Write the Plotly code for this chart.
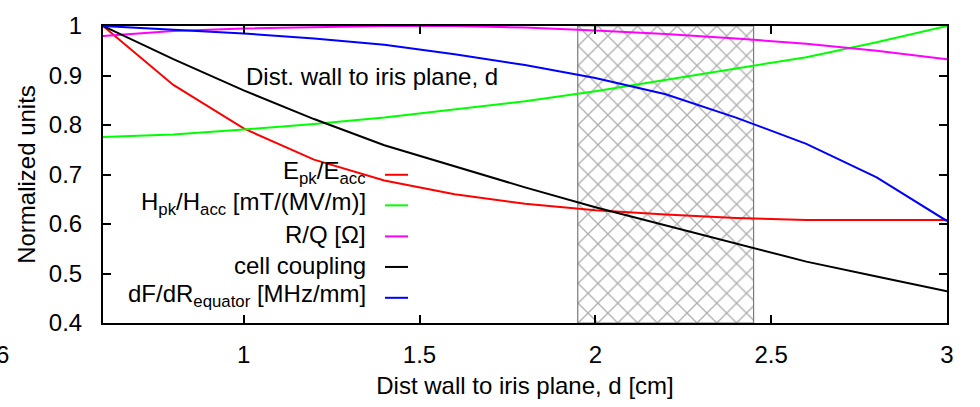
import plotly.graph_objects as go

# Distance from cavity wall to iris plane, d [cm]
d = [0.6, 0.8, 1.0, 1.2, 1.4, 1.6, 1.8, 2.0, 2.2, 2.4, 2.6, 2.8, 3.0]

# Normalized figures of merit
epk_eacc = [1.0, 0.881, 0.793, 0.730, 0.688, 0.660, 0.641, 0.628, 0.619, 0.612, 0.608, 0.608, 0.608]
hpk_hacc = [0.776, 0.781, 0.791, 0.802, 0.815, 0.831, 0.848, 0.868, 0.891, 0.915, 0.937, 0.967, 1.0]
r_over_q = [0.980, 0.990, 0.995, 0.998, 1.0, 1.0, 0.997, 0.991, 0.984, 0.975, 0.964, 0.950, 0.933]
cell_coupling = [1.0, 0.933, 0.870, 0.812, 0.759, 0.716, 0.674, 0.634, 0.597, 0.561, 0.524, 0.494, 0.464]
df_dr_equator = [1.0, 0.993, 0.985, 0.975, 0.962, 0.943, 0.921, 0.895, 0.862, 0.815, 0.762, 0.694, 0.606]

# Preferred range of d (hatched band)
band_d = [1.95, 2.45]

x_ticks = [1, 1.5, 2, 2.5, 3]
y_ticks = [0.4, 0.5, 0.6, 0.7, 0.8, 0.9, 1.0]
y_tick_text = ["0.4", "0.5", "0.6", "0.7", "0.8", "0.9", "1"]

series = [
    ("E<sub>pk</sub>/E<sub>acc</sub>", epk_eacc, "#ff0000"),
    ("H<sub>pk</sub>/H<sub>acc</sub> [mT/(MV/m)]", hpk_hacc, "#00ff00"),
    ("R/Q [Ω]", r_over_q, "#ff00ff"),
    ("cell coupling", cell_coupling, "#000000"),
    ("dF/dR<sub>equator</sub> [MHz/mm]", df_dr_equator, "#0000ff"),
]

FONT = "Liberation Sans, Arial, sans-serif"
FS = 24

fig = go.Figure()

# hatched band
y0, y1 = y_ticks[0], y_ticks[-1]
fig.add_trace(go.Scatter(
    x=[band_d[0], band_d[1], band_d[1], band_d[0], band_d[0]],
    y=[y0, y0, y1, y1, y0],
    mode="lines", fill="toself",
    line=dict(color="#7a7a7a", width=1.2),
    fillcolor="rgba(0,0,0,0)",
    fillpattern=dict(shape="x", fgcolor="#5e5e5e", bgcolor="white", size=14, solidity=0.18),
    showlegend=False, hoverinfo="skip",
))

for name, vals, color in series:
    fig.add_trace(go.Scatter(
        x=d, y=vals, mode="lines", name=name,
        line=dict(color=color, width=2),
        showlegend=False,
    ))

# key: right-aligned labels with line samples to their right
L, R, T, B = 103, 33, 17, 80
W, H = 980, 407
pw, ph = W - L - R, H - T - B


def px_x(p):
    return (p - L) / pw


def px_y(p):
    return 1 - (p - T) / ph


key_rows = [172.3, 204.2, 236.6, 268.5, 300.7]
for (name, vals, color), ry in zip(series, key_rows):
    fig.add_annotation(
        x=px_x(368), y=px_y(ry - 2), xref="paper", yref="paper",
        text=name, showarrow=False, xanchor="right", yanchor="middle",
        font=dict(family=FONT, size=FS, color="black"),
    )
    fig.add_shape(
        type="line", xref="paper", yref="paper",
        x0=px_x(385), x1=px_x(408), y0=px_y(ry), y1=px_y(ry),
        line=dict(color=color, width=2),
    )

fig.add_annotation(
    x=px_x(244), y=px_y(70), xref="paper", yref="paper",
    text="Dist. wall to iris plane, d", showarrow=False,
    xanchor="left", yanchor="middle",
    font=dict(family=FONT, size=FS, color="black"),
)

# leftmost x tick label
fig.add_annotation(
    x=px_x(11), y=px_y(360), xref="paper", yref="paper",
    text="0.6", showarrow=False, xanchor="right", yanchor="middle",
    font=dict(family=FONT, size=FS, color="black"),
)

fig.update_xaxes(
    range=[0.6, 3.0], tickvals=x_ticks, ticktext=[f"{v:g}" for v in x_ticks],
    ticks="inside", ticklen=8, tickwidth=1.5, tickcolor="black",
    showline=True, linecolor="black", linewidth=2, mirror="ticks",
    showgrid=False, zeroline=False, ticklabelstandoff=9,
    tickfont=dict(family=FONT, size=FS, color="black"),
    title=dict(text="Dist wall to iris plane, d [cm]", standoff=10,
               font=dict(family=FONT, size=FS, color="black")),
)
fig.update_yaxes(
    range=[0.4, 1.0], tickvals=y_ticks, ticktext=y_tick_text,
    ticks="inside", ticklen=8, tickwidth=1.5, tickcolor="black",
    showline=True, linecolor="black", linewidth=2, mirror="ticks",
    showgrid=False, zeroline=False, ticklabelstandoff=14,
    tickfont=dict(family=FONT, size=FS, color="black"),
    title=dict(text="Normalized units", standoff=6,
               font=dict(family=FONT, size=FS, color="black")),
)

fig.update_layout(
    width=W, height=H,
    margin=dict(l=L, r=R, t=T, b=B),
    plot_bgcolor="white", paper_bgcolor="white",
    font=dict(family=FONT, size=FS, color="black"),
)

fig.write_html("out.html")
